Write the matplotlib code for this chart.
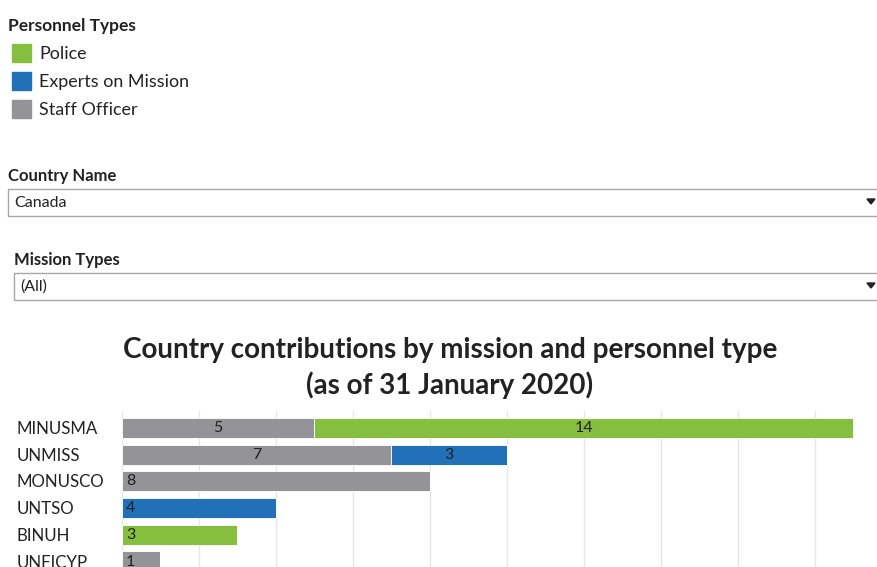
import matplotlib.pyplot as plt
from matplotlib.patches import Rectangle, Polygon

# Data
missions = ['MINUSMA', 'UNMISS', 'MONUSCO', 'UNTSO', 'BINUH', 'UNFICYP']
staff_officer = [5, 7, 8, 0, 0, 1]
experts_on_mission = [0, 3, 0, 4, 0, 0]
police = [14, 0, 0, 0, 3, 0]
legend_labels = ['Police', 'Experts on Mission', 'Staff Officer']

colors = {'Police': '#86BE40', 'Experts on Mission': '#2271B8', 'Staff Officer': '#939398'}

W, H = 878, 567
plt.rcParams['font.family'] = ['Lato', 'DejaVu Sans']
fig = plt.figure(figsize=(W / 100, H / 100), dpi=100)


def fx(x):
    return x / W


def fy(y):
    return 1 - y / H


def text(x, y, s, **kw):
    fig.text(fx(x), fy(y), s, va='center', **kw)


# Legend
text(8, 26, 'Personnel Types', fontsize=12.5, fontweight='bold', color='#222222')
for i, lab in enumerate(legend_labels):
    yc = 53 + 28 * i
    fig.patches.append(Rectangle((fx(12), fy(yc + 9)), fx(19), 18 / H,
                                 transform=fig.transFigure, color=colors[lab]))
    text(39, yc + 1, lab, fontsize=12.9, color='#222222')


# Filter dropdowns
def dropdown(x, y_lab, y_box, title, value):
    text(x, y_lab, title, fontsize=12, fontweight='bold', color='#222222')
    fig.patches.append(Rectangle((fx(x), fy(y_box + 27)), fx(W + 5 - x), 27 / H,
                                 transform=fig.transFigure, facecolor='white',
                                 edgecolor='#a8a8a8', linewidth=1))
    text(x + 6, y_box + 14, value, fontsize=11.5, color='#222222')
    fig.patches.append(Polygon([(fx(867), fy(y_box + 10)), (fx(875), fy(y_box + 10)),
                                (fx(871), fy(y_box + 15))],
                               closed=True, transform=fig.transFigure, color='#222222'))


dropdown(8, 176, 189, 'Country Name', 'Canada')
dropdown(14, 260, 273, 'Mission Types', '(All)')

# Title
fig.text(fx(450), fy(350), 'Country contributions by mission and personnel type',
         ha='center', va='center', fontsize=20, fontweight='bold', color='#222222')
fig.text(fx(450), fy(385), '(as of 31 January 2020)',
         ha='center', va='center', fontsize=20, fontweight='bold', color='#222222')

# Bar chart
ax = fig.add_axes([fx(122), 0, fx(W - 122), (H - 411) / H])
unit = 38.5
ax.set_xlim(0, (W - 122) / unit)
row = 26.7
ax.set_ylim((H - 428) / row, -(428 - 411) / row)

ypos = list(range(len(missions)))
left = [0] * len(missions)
series = [('Staff Officer', staff_officer), ('Experts on Mission', experts_on_mission),
          ('Police', police)]
for name, vals in series:
    ax.barh(ypos, vals, left=left, height=0.75, color=colors[name],
            edgecolor='white', linewidth=0.6, zorder=2)
    for i, v in enumerate(vals):
        if v == 0:
            continue
        n_seg = sum(1 for _, s in series if s[i] > 0)
        if n_seg > 1:
            ax.text(left[i] + v / 2, i, str(v), ha='center', va='center',
                    fontsize=11.5, color='#222222', zorder=3)
        else:
            ax.text(left[i] + 0.1, i, str(v), ha='left', va='center',
                    fontsize=11.5, color='#222222', zorder=3)
    left = [l + v for l, v in zip(left, vals)]

ax.set_xticks(range(0, 20, 2))
ax.grid(axis='x', color='#e6e6e6', linewidth=1, zorder=0)
ax.tick_params(left=False, bottom=False, labelbottom=False, labelleft=False)
for sp in ax.spines.values():
    sp.set_visible(False)

for i, m in enumerate(missions):
    text(17, 429 + row * i, m, fontsize=12.2, color='#222222')

fig.savefig('out.png', dpi=100)
